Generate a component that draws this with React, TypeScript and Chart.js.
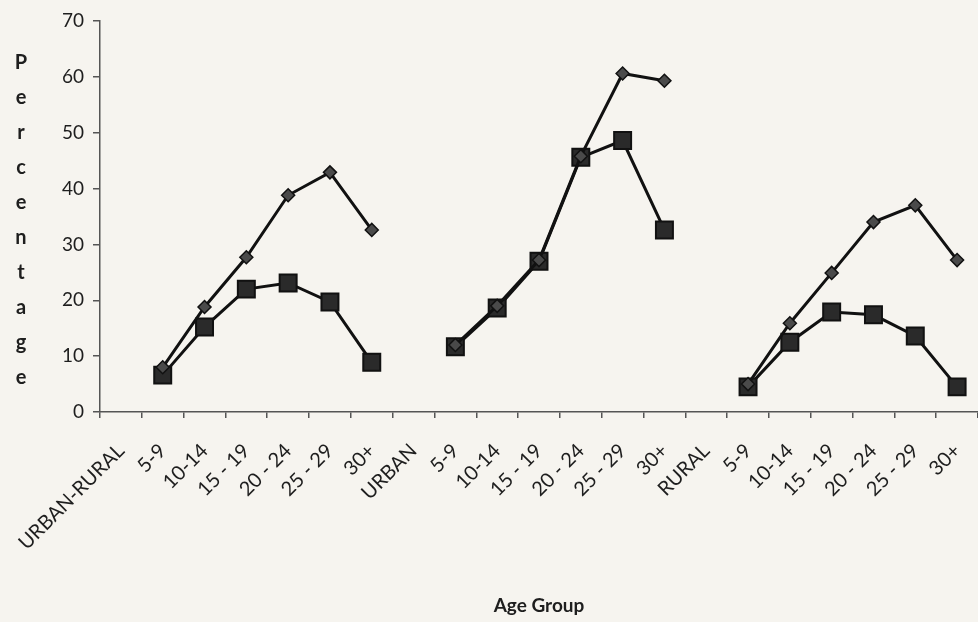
import React, { useEffect, useRef } from "react";
import { Chart, registerables } from "chart.js";

Chart.register(...registerables);

const categories = [
  "URBAN-RURAL", "5-9", "10-14", "15 - 19", "20 - 24", "25 - 29", "30+",
  "URBAN", "5-9", "10-14", "15 - 19", "20 - 24", "25 - 29", "30+",
  "RURAL", "5-9", "10-14", "15 - 19", "20 - 24", "25 - 29", "30+",
];

const diamondValues = [
  null, 8.0, 18.8, 27.7, 38.8, 42.9, 32.6,
  null, 12.0, 19.0, 27.2, 45.8, 60.6, 59.3,
  null, 5.0, 15.9, 24.9, 34.0, 37.0, 27.2,
];

const squareValues = [
  null, 6.6, 15.2, 22.0, 23.1, 19.7, 8.9,
  null, 11.7, 18.6, 27.0, 45.6, 48.6, 32.6,
  null, 4.5, 12.5, 17.9, 17.4, 13.6, 4.5,
];

const yTicks = [0, 10, 20, 30, 40, 50, 60, 70];
const yTitleLetters = ["P", "e", "r", "c", "e", "n", "t", "a", "g", "e"];
const xTitle = "Age Group";

const FONT = "Lato, 'Open Sans', sans-serif";

const stackedTitle = {
  id: "stackedTitle",
  afterDraw(chart: any) {
    const ctx = chart.ctx;
    ctx.save();
    ctx.fillStyle = "#1e1e1e";
    ctx.font = `bold 20px ${FONT}`;
    ctx.textAlign = "center";
    ctx.textBaseline = "middle";
    yTitleLetters.forEach((ch, i) => {
      ctx.fillText(ch, 21, 63 + i * 35);
    });
    ctx.restore();
  },
};

export default function App() {
  const ref = useRef<HTMLCanvasElement>(null);
  useEffect(() => {
    if (!ref.current) return;
    const chart = new Chart(ref.current, {
      type: "line",
      data: {
        labels: categories,
        datasets: [
          {
            label: "Series1",
            data: diamondValues,
            borderColor: "#111",
            borderWidth: 3,
            pointStyle: "rectRot",
            pointRadius: 6.5,
            pointBackgroundColor: "#4a4a4a",
            pointBorderColor: "#111",
            pointBorderWidth: 1.5,
            spanGaps: false,
            tension: 0,
          },
          {
            label: "Series2",
            data: squareValues,
            borderColor: "#111",
            borderWidth: 3,
            pointStyle: "rect",
            pointRadius: 12,
            pointBackgroundColor: "#2a2a2a",
            pointBorderColor: "#111",
            pointBorderWidth: 2,
            spanGaps: false,
            tension: 0,
          },
        ],
      },
      options: {
        animation: false,
        responsive: false,
        layout: { autoPadding: false, padding: { top: 21, right: 0, left: 0, bottom: 0 } },
        plugins: { legend: { display: false }, tooltip: { enabled: false } },
        scales: {
          x: {
            type: "category",
            offset: true,
            grid: {
              offset: true,
              drawOnChartArea: false,
              drawTicks: true,
              tickLength: 6,
              color: "#555",
              lineWidth: 1.5,
            },
            border: { display: true, color: "#555", width: 1.5 },
            ticks: {
              autoSkip: false,
              maxRotation: 45,
              minRotation: 45,
              padding: 21,
              color: "#1e1e1e",
              font: { family: FONT, size: 20 },
            },
            title: {
              display: true,
              text: xTitle,
              color: "#1e1e1e",
              font: { family: FONT, size: 19, weight: "bold" },
              padding: { top: 4, bottom: 5 },
            },
            afterFit(scale: any) {
              scale.height = 210;
              scale.paddingLeft = 0;
              scale.paddingRight = 0;
            },
          },
          y: {
            min: 0,
            max: 70,
            afterBuildTicks(scale: any) {
              scale.ticks = yTicks.map((v) => ({ value: v }));
            },
            grid: {
              drawOnChartArea: false,
              drawTicks: true,
              tickLength: 7,
              color: "#555",
              lineWidth: 1.5,
            },
            border: { display: true, color: "#555", width: 1.5 },
            ticks: {
              padding: 9,
              color: "#1e1e1e",
              font: { family: FONT, size: 19 },
            },
            afterFit(scale: any) {
              scale.width = 100;
              scale.paddingTop = 0;
              scale.paddingBottom = 0;
            },
          },
        },
      },
      plugins: [stackedTitle],
    });
    return () => chart.destroy();
  }, []);
  return (
    <div style={{ position: "fixed", left: 0, top: 0, width: 978, height: 622, background: "#f6f4ef" }}>
      <canvas ref={ref} width={978} height={622} style={{ display: "block" }} />
    </div>
  );
}
